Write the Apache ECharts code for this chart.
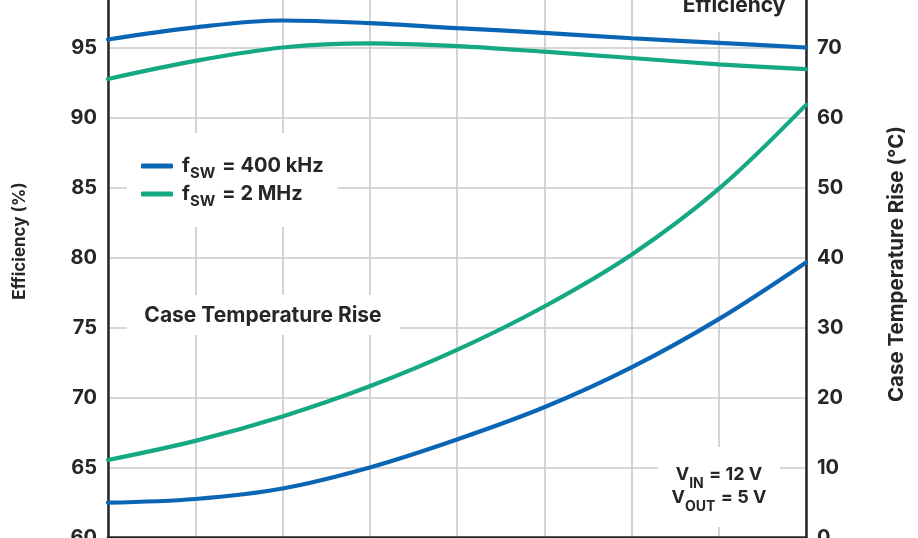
<!DOCTYPE html>
<html>
<head>
<meta charset="utf-8">
<script src="https://cdn.jsdelivr.net/npm/echarts@6/dist/echarts.min.js"></script>
<style>
html,body{margin:0;padding:0;background:#fff;}
#chart{width:918px;height:538px;}
</style>
</head>
<body>
<div id="chart"></div>
<script>
// X positions (load points, evenly spaced; x-axis labels are outside the visible frame)
var xValues = [0, 1, 2, 3, 4, 5, 6, 7, 8];
// Efficiency (%) - left axis
var eff400k = [95.57, 96.44, 96.93, 96.74, 96.38, 96.05, 95.66, 95.33, 95.0];
var eff2M   = [92.75, 94.04, 95.0, 95.3, 95.1, 94.7, 94.25, 93.8, 93.45];
// Case temperature rise (°C) - right axis
var temp400k = [4.97, 5.5, 7.0, 10.0, 14.0, 18.6, 24.3, 31.2, 39.3];
var temp2M   = [11.07, 13.8, 17.3, 21.6, 26.8, 33.0, 40.4, 49.8, 61.8];
var leftTicks = [60, 100, 5];
var rightTicks = [0, 80, 10];
var name400k = 'fSW = 400 kHz';
var name2M = 'fSW = 2 MHz';

var BLUE = '#0a66b4';
var GREEN = '#14a883';
var DARK = '#262626';
var GRIDC = '#cacaca';
var FONT = 'Inter';

function pairs(xs, ys) { return xs.map(function (x, i) { return [x, ys[i]]; }); }

var chart = echarts.init(document.getElementById('chart'), null, {renderer: 'canvas'});

function lineSeries(name, data, color, yIdx) {
  return {
    name: name, type: 'line', yAxisIndex: yIdx, data: data,
    smooth: 0.35, showSymbol: false, symbol: 'none',
    lineStyle: {color: color, width: 4.2, cap: 'round'},
    itemStyle: {color: color},
    z: 5
  };
}

var option = {
  animation: false,
  backgroundColor: '#fff',
  grid: {left: 108, right: 112, top: -22.5, bottom: 0.5, containLabel: false, outerBoundsMode: 'none'},
  xAxis: {
    type: 'value', min: 0, max: 8, interval: 1,
    axisLine: {show: true, lineStyle: {color: DARK, width: 2.5}},
    axisTick: {show: false},
    axisLabel: {show: false},
    splitLine: {show: true, lineStyle: {color: GRIDC, width: 1.6}}
  },
  yAxis: [{
    type: 'value', position: 'left', min: leftTicks[0], max: leftTicks[1], interval: leftTicks[2],
    axisLine: {show: true, lineStyle: {color: DARK, width: 2.5}},
    axisTick: {show: false},
    axisLabel: {color: DARK, fontFamily: FONT, fontWeight: 'bold', fontSize: 20, margin: 11},
    splitLine: {show: true, lineStyle: {color: GRIDC, width: 1.6}}
  }, {
    type: 'value', position: 'right', min: rightTicks[0], max: rightTicks[1], interval: rightTicks[2],
    axisLine: {show: true, lineStyle: {color: DARK, width: 2.5}},
    axisTick: {show: false},
    axisLabel: {color: DARK, fontFamily: FONT, fontWeight: 'bold', fontSize: 20, margin: 11},
    splitLine: {show: false}
  }],
  legend: {
    orient: 'vertical', left: 127, top: 133,
    backgroundColor: '#fff',
    padding: [23, 14, 18, 14],
    itemGap: 3,
    itemWidth: 32, itemHeight: 5,
    icon: 'roundRect',
    data: [name400k, name2M],
    formatter: function (n) {
      var rest = n.substring(3);
      return '{f|f}{sub|SW}{t|' + rest + '}';
    },
    textStyle: {
      color: DARK,
      rich: {
        f: {fontFamily: FONT, fontWeight: 'bold', fontSize: 20, color: DARK, lineHeight: 20, padding: [0, 0, 0, 4]},
        sub: {fontFamily: FONT, fontWeight: 'bold', fontSize: 15, color: DARK, lineHeight: 20, verticalAlign: 'bottom', padding: [0, 2, -5, 0]},
        t: {fontFamily: FONT, fontWeight: 'bold', fontSize: 20, color: DARK, lineHeight: 20}
      }
    }
  },
  graphic: [
    {type: 'rect', z: 10, shape: {x: 668, y: -10, width: 134, height: 42}, style: {fill: '#fff'}},
    {type: 'text', z: 11, x: 734, y: 6, style: {text: 'Efficiency', fill: DARK, font: 'bold 21px ' + FONT, align: 'center', verticalAlign: 'middle'}},
    {type: 'rect', z: 10, shape: {x: 127, y: 295, width: 273, height: 40}, style: {fill: '#fff'}},
    {type: 'text', z: 11, x: 263, y: 316, style: {text: 'Case Temperature Rise', fill: DARK, font: 'bold 21px ' + FONT, align: 'center', verticalAlign: 'middle'}},
    {type: 'rect', z: 10, shape: {x: 658, y: 447, width: 122, height: 80}, style: {fill: '#fff'}},
    {type: 'text', z: 11, x: 719, y: 486, style: {
      text: '{v|V}{s|IN}{v| = 12 V}\n{v|V}{s|OUT}{v| = 5 V}',
      align: 'center', verticalAlign: 'middle',
      rich: {
        v: {fontFamily: FONT, fontWeight: 'bold', fontSize: 18, fill: DARK, lineHeight: 23},
        s: {fontFamily: FONT, fontWeight: 'bold', fontSize: 14, fill: DARK, lineHeight: 23, verticalAlign: 'bottom', padding: [0, 1, -5, 0]}
      }
    }},
    {type: 'text', z: 11, x: 20, y: 241, rotation: Math.PI / 2, style: {text: 'Efficiency (%)', fill: DARK, font: 'bold 17px ' + FONT, align: 'center', verticalAlign: 'middle'}},
    {type: 'text', z: 11, x: 897, y: 264, rotation: Math.PI / 2, style: {text: 'Case Temperature Rise (°C)', fill: DARK, font: 'bold 20.5px ' + FONT, align: 'center', verticalAlign: 'middle'}}
  ],
  series: [
    lineSeries(name400k, pairs(xValues, eff400k), BLUE, 0),
    lineSeries(name2M, pairs(xValues, eff2M), GREEN, 0),
    lineSeries(name400k, pairs(xValues, temp400k), BLUE, 1),
    lineSeries(name2M, pairs(xValues, temp2M), GREEN, 1)
  ]
};
chart.setOption(option);
</script>
</body>
</html>
